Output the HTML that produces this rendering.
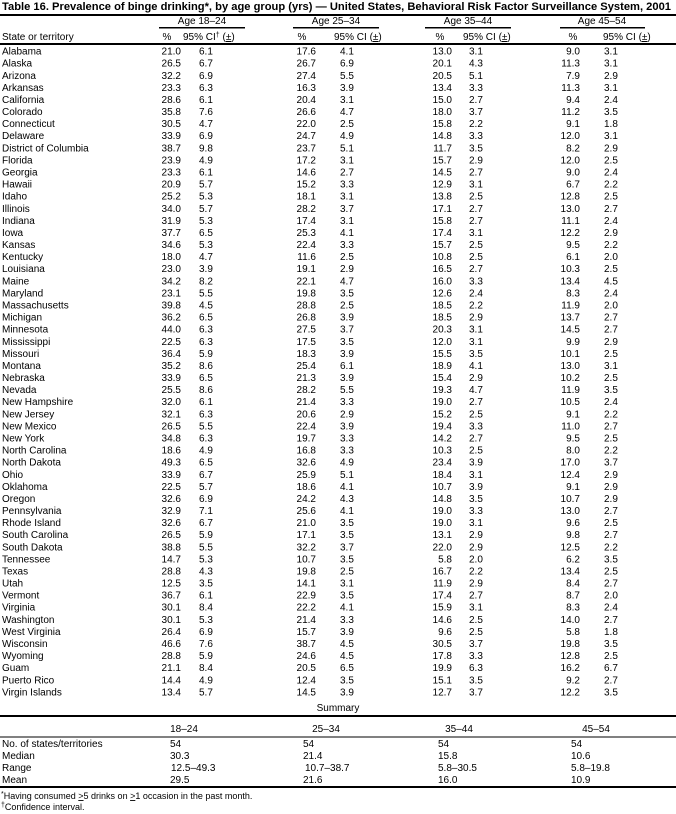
<!DOCTYPE html>
<html><head><meta charset="utf-8"><style>
html,body{margin:0;padding:0;background:#fff;}
svg{display:block;font-family:"Liberation Sans",Arial,sans-serif;}
text{font-size:10px;fill:#000;}
.r{text-anchor:end;}
.m{text-anchor:middle;}
.t{font-size:11px;font-weight:bold;}
.f{font-size:9px;}
</style></head><body>
<svg width="676" height="814" viewBox="0 0 676 814" xmlns="http://www.w3.org/2000/svg">
<text class="t" x="2" y="10" textLength="669" lengthAdjust="spacingAndGlyphs">Table 16. Prevalence of binge drinking*, by age group (yrs) — United States, Behavioral Risk Factor Surveillance System, 2001</text>
<rect x="0" y="14" width="676" height="2"/>
<text class="m" x="202" y="24">Age 18–24</text>
<text class="m" x="336" y="24">Age 25–34</text>
<text class="m" x="468" y="24">Age 35–44</text>
<text class="m" x="602" y="24">Age 45–54</text>
<rect x="159" y="27" width="86" height="1.5"/>
<rect x="293" y="27" width="86" height="1.5"/>
<rect x="425" y="27" width="86" height="1.5"/>
<rect x="560" y="27" width="85" height="1.5"/>
<text y="40"><tspan x="2">State or territory</tspan></text>
<text class="m" x="167" y="40">%</text><text x="183" y="40">95% CI<tspan font-size="7" dy="-3">†</tspan><tspan dy="3"> (</tspan><tspan text-decoration="underline">±</tspan>)</text>
<text class="m" x="302" y="40">%</text><text x="334" y="40">95% CI (<tspan text-decoration="underline">±</tspan>)</text>
<text class="m" x="440" y="40">%</text><text x="463" y="40">95% CI (<tspan text-decoration="underline">±</tspan>)</text>
<text class="m" x="573" y="40">%</text><text x="603" y="40">95% CI (<tspan text-decoration="underline">±</tspan>)</text>
<rect x="0" y="43" width="676" height="2"/>
<g>
<text y="54.6"><tspan x="2">Alabama</tspan><tspan class="r" x="181">21.0</tspan><tspan x="199">6.1</tspan><tspan class="r" x="316">17.6</tspan><tspan x="340">4.1</tspan><tspan class="r" x="452">13.0</tspan><tspan x="469">3.1</tspan><tspan class="r" x="580">9.0</tspan><tspan x="604">3.1</tspan></text>
<text y="66.7"><tspan x="2">Alaska</tspan><tspan class="r" x="181">26.5</tspan><tspan x="199">6.7</tspan><tspan class="r" x="316">26.7</tspan><tspan x="340">6.9</tspan><tspan class="r" x="452">20.1</tspan><tspan x="469">4.3</tspan><tspan class="r" x="580">11.3</tspan><tspan x="604">3.1</tspan></text>
<text y="78.8"><tspan x="2">Arizona</tspan><tspan class="r" x="181">32.2</tspan><tspan x="199">6.9</tspan><tspan class="r" x="316">27.4</tspan><tspan x="340">5.5</tspan><tspan class="r" x="452">20.5</tspan><tspan x="469">5.1</tspan><tspan class="r" x="580">7.9</tspan><tspan x="604">2.9</tspan></text>
<text y="90.9"><tspan x="2">Arkansas</tspan><tspan class="r" x="181">23.3</tspan><tspan x="199">6.3</tspan><tspan class="r" x="316">16.3</tspan><tspan x="340">3.9</tspan><tspan class="r" x="452">13.4</tspan><tspan x="469">3.3</tspan><tspan class="r" x="580">11.3</tspan><tspan x="604">3.1</tspan></text>
<text y="103.0"><tspan x="2">California</tspan><tspan class="r" x="181">28.6</tspan><tspan x="199">6.1</tspan><tspan class="r" x="316">20.4</tspan><tspan x="340">3.1</tspan><tspan class="r" x="452">15.0</tspan><tspan x="469">2.7</tspan><tspan class="r" x="580">9.4</tspan><tspan x="604">2.4</tspan></text>
<text y="115.1"><tspan x="2">Colorado</tspan><tspan class="r" x="181">35.8</tspan><tspan x="199">7.6</tspan><tspan class="r" x="316">26.6</tspan><tspan x="340">4.7</tspan><tspan class="r" x="452">18.0</tspan><tspan x="469">3.7</tspan><tspan class="r" x="580">11.2</tspan><tspan x="604">3.5</tspan></text>
<text y="127.1"><tspan x="2">Connecticut</tspan><tspan class="r" x="181">30.5</tspan><tspan x="199">4.7</tspan><tspan class="r" x="316">22.0</tspan><tspan x="340">2.5</tspan><tspan class="r" x="452">15.8</tspan><tspan x="469">2.2</tspan><tspan class="r" x="580">9.1</tspan><tspan x="604">1.8</tspan></text>
<text y="139.2"><tspan x="2">Delaware</tspan><tspan class="r" x="181">33.9</tspan><tspan x="199">6.9</tspan><tspan class="r" x="316">24.7</tspan><tspan x="340">4.9</tspan><tspan class="r" x="452">14.8</tspan><tspan x="469">3.3</tspan><tspan class="r" x="580">12.0</tspan><tspan x="604">3.1</tspan></text>
<text y="151.3"><tspan x="2">District of Columbia</tspan><tspan class="r" x="181">38.7</tspan><tspan x="199">9.8</tspan><tspan class="r" x="316">23.7</tspan><tspan x="340">5.1</tspan><tspan class="r" x="452">11.7</tspan><tspan x="469">3.5</tspan><tspan class="r" x="580">8.2</tspan><tspan x="604">2.9</tspan></text>
<text y="163.4"><tspan x="2">Florida</tspan><tspan class="r" x="181">23.9</tspan><tspan x="199">4.9</tspan><tspan class="r" x="316">17.2</tspan><tspan x="340">3.1</tspan><tspan class="r" x="452">15.7</tspan><tspan x="469">2.9</tspan><tspan class="r" x="580">12.0</tspan><tspan x="604">2.5</tspan></text>
<text y="175.5"><tspan x="2">Georgia</tspan><tspan class="r" x="181">23.3</tspan><tspan x="199">6.1</tspan><tspan class="r" x="316">14.6</tspan><tspan x="340">2.7</tspan><tspan class="r" x="452">14.5</tspan><tspan x="469">2.7</tspan><tspan class="r" x="580">9.0</tspan><tspan x="604">2.4</tspan></text>
<text y="187.6"><tspan x="2">Hawaii</tspan><tspan class="r" x="181">20.9</tspan><tspan x="199">5.7</tspan><tspan class="r" x="316">15.2</tspan><tspan x="340">3.3</tspan><tspan class="r" x="452">12.9</tspan><tspan x="469">3.1</tspan><tspan class="r" x="580">6.7</tspan><tspan x="604">2.2</tspan></text>
<text y="199.7"><tspan x="2">Idaho</tspan><tspan class="r" x="181">25.2</tspan><tspan x="199">5.3</tspan><tspan class="r" x="316">18.1</tspan><tspan x="340">3.1</tspan><tspan class="r" x="452">13.8</tspan><tspan x="469">2.5</tspan><tspan class="r" x="580">12.8</tspan><tspan x="604">2.5</tspan></text>
<text y="211.8"><tspan x="2">Illinois</tspan><tspan class="r" x="181">34.0</tspan><tspan x="199">5.7</tspan><tspan class="r" x="316">28.2</tspan><tspan x="340">3.7</tspan><tspan class="r" x="452">17.1</tspan><tspan x="469">2.7</tspan><tspan class="r" x="580">13.0</tspan><tspan x="604">2.7</tspan></text>
<text y="223.9"><tspan x="2">Indiana</tspan><tspan class="r" x="181">31.9</tspan><tspan x="199">5.3</tspan><tspan class="r" x="316">17.4</tspan><tspan x="340">3.1</tspan><tspan class="r" x="452">15.8</tspan><tspan x="469">2.7</tspan><tspan class="r" x="580">11.1</tspan><tspan x="604">2.4</tspan></text>
<text y="236.0"><tspan x="2">Iowa</tspan><tspan class="r" x="181">37.7</tspan><tspan x="199">6.5</tspan><tspan class="r" x="316">25.3</tspan><tspan x="340">4.1</tspan><tspan class="r" x="452">17.4</tspan><tspan x="469">3.1</tspan><tspan class="r" x="580">12.2</tspan><tspan x="604">2.9</tspan></text>
<text y="248.0"><tspan x="2">Kansas</tspan><tspan class="r" x="181">34.6</tspan><tspan x="199">5.3</tspan><tspan class="r" x="316">22.4</tspan><tspan x="340">3.3</tspan><tspan class="r" x="452">15.7</tspan><tspan x="469">2.5</tspan><tspan class="r" x="580">9.5</tspan><tspan x="604">2.2</tspan></text>
<text y="260.1"><tspan x="2">Kentucky</tspan><tspan class="r" x="181">18.0</tspan><tspan x="199">4.7</tspan><tspan class="r" x="316">11.6</tspan><tspan x="340">2.5</tspan><tspan class="r" x="452">10.8</tspan><tspan x="469">2.5</tspan><tspan class="r" x="580">6.1</tspan><tspan x="604">2.0</tspan></text>
<text y="272.2"><tspan x="2">Louisiana</tspan><tspan class="r" x="181">23.0</tspan><tspan x="199">3.9</tspan><tspan class="r" x="316">19.1</tspan><tspan x="340">2.9</tspan><tspan class="r" x="452">16.5</tspan><tspan x="469">2.7</tspan><tspan class="r" x="580">10.3</tspan><tspan x="604">2.5</tspan></text>
<text y="284.3"><tspan x="2">Maine</tspan><tspan class="r" x="181">34.2</tspan><tspan x="199">8.2</tspan><tspan class="r" x="316">22.1</tspan><tspan x="340">4.7</tspan><tspan class="r" x="452">16.0</tspan><tspan x="469">3.3</tspan><tspan class="r" x="580">13.4</tspan><tspan x="604">4.5</tspan></text>
<text y="296.4"><tspan x="2">Maryland</tspan><tspan class="r" x="181">23.1</tspan><tspan x="199">5.5</tspan><tspan class="r" x="316">19.8</tspan><tspan x="340">3.5</tspan><tspan class="r" x="452">12.6</tspan><tspan x="469">2.4</tspan><tspan class="r" x="580">8.3</tspan><tspan x="604">2.4</tspan></text>
<text y="308.5"><tspan x="2">Massachusetts</tspan><tspan class="r" x="181">39.8</tspan><tspan x="199">4.5</tspan><tspan class="r" x="316">28.8</tspan><tspan x="340">2.5</tspan><tspan class="r" x="452">18.5</tspan><tspan x="469">2.2</tspan><tspan class="r" x="580">11.9</tspan><tspan x="604">2.0</tspan></text>
<text y="320.6"><tspan x="2">Michigan</tspan><tspan class="r" x="181">36.2</tspan><tspan x="199">6.5</tspan><tspan class="r" x="316">26.8</tspan><tspan x="340">3.9</tspan><tspan class="r" x="452">18.5</tspan><tspan x="469">2.9</tspan><tspan class="r" x="580">13.7</tspan><tspan x="604">2.7</tspan></text>
<text y="332.7"><tspan x="2">Minnesota</tspan><tspan class="r" x="181">44.0</tspan><tspan x="199">6.3</tspan><tspan class="r" x="316">27.5</tspan><tspan x="340">3.7</tspan><tspan class="r" x="452">20.3</tspan><tspan x="469">3.1</tspan><tspan class="r" x="580">14.5</tspan><tspan x="604">2.7</tspan></text>
<text y="344.8"><tspan x="2">Mississippi</tspan><tspan class="r" x="181">22.5</tspan><tspan x="199">6.3</tspan><tspan class="r" x="316">17.5</tspan><tspan x="340">3.5</tspan><tspan class="r" x="452">12.0</tspan><tspan x="469">3.1</tspan><tspan class="r" x="580">9.9</tspan><tspan x="604">2.9</tspan></text>
<text y="356.9"><tspan x="2">Missouri</tspan><tspan class="r" x="181">36.4</tspan><tspan x="199">5.9</tspan><tspan class="r" x="316">18.3</tspan><tspan x="340">3.9</tspan><tspan class="r" x="452">15.5</tspan><tspan x="469">3.5</tspan><tspan class="r" x="580">10.1</tspan><tspan x="604">2.5</tspan></text>
<text y="368.9"><tspan x="2">Montana</tspan><tspan class="r" x="181">35.2</tspan><tspan x="199">8.6</tspan><tspan class="r" x="316">25.4</tspan><tspan x="340">6.1</tspan><tspan class="r" x="452">18.9</tspan><tspan x="469">4.1</tspan><tspan class="r" x="580">13.0</tspan><tspan x="604">3.1</tspan></text>
<text y="381.0"><tspan x="2">Nebraska</tspan><tspan class="r" x="181">33.9</tspan><tspan x="199">6.5</tspan><tspan class="r" x="316">21.3</tspan><tspan x="340">3.9</tspan><tspan class="r" x="452">15.4</tspan><tspan x="469">2.9</tspan><tspan class="r" x="580">10.2</tspan><tspan x="604">2.5</tspan></text>
<text y="393.1"><tspan x="2">Nevada</tspan><tspan class="r" x="181">25.5</tspan><tspan x="199">8.6</tspan><tspan class="r" x="316">28.2</tspan><tspan x="340">5.5</tspan><tspan class="r" x="452">19.3</tspan><tspan x="469">4.7</tspan><tspan class="r" x="580">11.9</tspan><tspan x="604">3.5</tspan></text>
<text y="405.2"><tspan x="2">New Hampshire</tspan><tspan class="r" x="181">32.0</tspan><tspan x="199">6.1</tspan><tspan class="r" x="316">21.4</tspan><tspan x="340">3.3</tspan><tspan class="r" x="452">19.0</tspan><tspan x="469">2.7</tspan><tspan class="r" x="580">10.5</tspan><tspan x="604">2.4</tspan></text>
<text y="417.3"><tspan x="2">New Jersey</tspan><tspan class="r" x="181">32.1</tspan><tspan x="199">6.3</tspan><tspan class="r" x="316">20.6</tspan><tspan x="340">2.9</tspan><tspan class="r" x="452">15.2</tspan><tspan x="469">2.5</tspan><tspan class="r" x="580">9.1</tspan><tspan x="604">2.2</tspan></text>
<text y="429.4"><tspan x="2">New Mexico</tspan><tspan class="r" x="181">26.5</tspan><tspan x="199">5.5</tspan><tspan class="r" x="316">22.4</tspan><tspan x="340">3.9</tspan><tspan class="r" x="452">19.4</tspan><tspan x="469">3.3</tspan><tspan class="r" x="580">11.0</tspan><tspan x="604">2.7</tspan></text>
<text y="441.5"><tspan x="2">New York</tspan><tspan class="r" x="181">34.8</tspan><tspan x="199">6.3</tspan><tspan class="r" x="316">19.7</tspan><tspan x="340">3.3</tspan><tspan class="r" x="452">14.2</tspan><tspan x="469">2.7</tspan><tspan class="r" x="580">9.5</tspan><tspan x="604">2.5</tspan></text>
<text y="453.6"><tspan x="2">North Carolina</tspan><tspan class="r" x="181">18.6</tspan><tspan x="199">4.9</tspan><tspan class="r" x="316">16.8</tspan><tspan x="340">3.3</tspan><tspan class="r" x="452">10.3</tspan><tspan x="469">2.5</tspan><tspan class="r" x="580">8.0</tspan><tspan x="604">2.2</tspan></text>
<text y="465.7"><tspan x="2">North Dakota</tspan><tspan class="r" x="181">49.3</tspan><tspan x="199">6.5</tspan><tspan class="r" x="316">32.6</tspan><tspan x="340">4.9</tspan><tspan class="r" x="452">23.4</tspan><tspan x="469">3.9</tspan><tspan class="r" x="580">17.0</tspan><tspan x="604">3.7</tspan></text>
<text y="477.8"><tspan x="2">Ohio</tspan><tspan class="r" x="181">33.9</tspan><tspan x="199">6.7</tspan><tspan class="r" x="316">25.9</tspan><tspan x="340">5.1</tspan><tspan class="r" x="452">18.4</tspan><tspan x="469">3.1</tspan><tspan class="r" x="580">12.4</tspan><tspan x="604">2.9</tspan></text>
<text y="489.8"><tspan x="2">Oklahoma</tspan><tspan class="r" x="181">22.5</tspan><tspan x="199">5.7</tspan><tspan class="r" x="316">18.6</tspan><tspan x="340">4.1</tspan><tspan class="r" x="452">10.7</tspan><tspan x="469">3.9</tspan><tspan class="r" x="580">9.1</tspan><tspan x="604">2.9</tspan></text>
<text y="501.9"><tspan x="2">Oregon</tspan><tspan class="r" x="181">32.6</tspan><tspan x="199">6.9</tspan><tspan class="r" x="316">24.2</tspan><tspan x="340">4.3</tspan><tspan class="r" x="452">14.8</tspan><tspan x="469">3.5</tspan><tspan class="r" x="580">10.7</tspan><tspan x="604">2.9</tspan></text>
<text y="514.0"><tspan x="2">Pennsylvania</tspan><tspan class="r" x="181">32.9</tspan><tspan x="199">7.1</tspan><tspan class="r" x="316">25.6</tspan><tspan x="340">4.1</tspan><tspan class="r" x="452">19.0</tspan><tspan x="469">3.3</tspan><tspan class="r" x="580">13.0</tspan><tspan x="604">2.7</tspan></text>
<text y="526.1"><tspan x="2">Rhode Island</tspan><tspan class="r" x="181">32.6</tspan><tspan x="199">6.7</tspan><tspan class="r" x="316">21.0</tspan><tspan x="340">3.5</tspan><tspan class="r" x="452">19.0</tspan><tspan x="469">3.1</tspan><tspan class="r" x="580">9.6</tspan><tspan x="604">2.5</tspan></text>
<text y="538.2"><tspan x="2">South Carolina</tspan><tspan class="r" x="181">26.5</tspan><tspan x="199">5.9</tspan><tspan class="r" x="316">17.1</tspan><tspan x="340">3.5</tspan><tspan class="r" x="452">13.1</tspan><tspan x="469">2.9</tspan><tspan class="r" x="580">9.8</tspan><tspan x="604">2.7</tspan></text>
<text y="550.3"><tspan x="2">South Dakota</tspan><tspan class="r" x="181">38.8</tspan><tspan x="199">5.5</tspan><tspan class="r" x="316">32.2</tspan><tspan x="340">3.7</tspan><tspan class="r" x="452">22.0</tspan><tspan x="469">2.9</tspan><tspan class="r" x="580">12.5</tspan><tspan x="604">2.2</tspan></text>
<text y="562.4"><tspan x="2">Tennessee</tspan><tspan class="r" x="181">14.7</tspan><tspan x="199">5.3</tspan><tspan class="r" x="316">10.7</tspan><tspan x="340">3.5</tspan><tspan class="r" x="452">5.8</tspan><tspan x="469">2.0</tspan><tspan class="r" x="580">6.2</tspan><tspan x="604">3.5</tspan></text>
<text y="574.5"><tspan x="2">Texas</tspan><tspan class="r" x="181">28.8</tspan><tspan x="199">4.3</tspan><tspan class="r" x="316">19.8</tspan><tspan x="340">2.5</tspan><tspan class="r" x="452">16.7</tspan><tspan x="469">2.2</tspan><tspan class="r" x="580">13.4</tspan><tspan x="604">2.5</tspan></text>
<text y="586.6"><tspan x="2">Utah</tspan><tspan class="r" x="181">12.5</tspan><tspan x="199">3.5</tspan><tspan class="r" x="316">14.1</tspan><tspan x="340">3.1</tspan><tspan class="r" x="452">11.9</tspan><tspan x="469">2.9</tspan><tspan class="r" x="580">8.4</tspan><tspan x="604">2.7</tspan></text>
<text y="598.7"><tspan x="2">Vermont</tspan><tspan class="r" x="181">36.7</tspan><tspan x="199">6.1</tspan><tspan class="r" x="316">22.9</tspan><tspan x="340">3.5</tspan><tspan class="r" x="452">17.4</tspan><tspan x="469">2.7</tspan><tspan class="r" x="580">8.7</tspan><tspan x="604">2.0</tspan></text>
<text y="610.7"><tspan x="2">Virginia</tspan><tspan class="r" x="181">30.1</tspan><tspan x="199">8.4</tspan><tspan class="r" x="316">22.2</tspan><tspan x="340">4.1</tspan><tspan class="r" x="452">15.9</tspan><tspan x="469">3.1</tspan><tspan class="r" x="580">8.3</tspan><tspan x="604">2.4</tspan></text>
<text y="622.8"><tspan x="2">Washington</tspan><tspan class="r" x="181">30.1</tspan><tspan x="199">5.3</tspan><tspan class="r" x="316">21.4</tspan><tspan x="340">3.3</tspan><tspan class="r" x="452">14.6</tspan><tspan x="469">2.5</tspan><tspan class="r" x="580">14.0</tspan><tspan x="604">2.7</tspan></text>
<text y="634.9"><tspan x="2">West Virginia</tspan><tspan class="r" x="181">26.4</tspan><tspan x="199">6.9</tspan><tspan class="r" x="316">15.7</tspan><tspan x="340">3.9</tspan><tspan class="r" x="452">9.6</tspan><tspan x="469">2.5</tspan><tspan class="r" x="580">5.8</tspan><tspan x="604">1.8</tspan></text>
<text y="647.0"><tspan x="2">Wisconsin</tspan><tspan class="r" x="181">46.6</tspan><tspan x="199">7.6</tspan><tspan class="r" x="316">38.7</tspan><tspan x="340">4.5</tspan><tspan class="r" x="452">30.5</tspan><tspan x="469">3.7</tspan><tspan class="r" x="580">19.8</tspan><tspan x="604">3.5</tspan></text>
<text y="659.1"><tspan x="2">Wyoming</tspan><tspan class="r" x="181">28.8</tspan><tspan x="199">5.9</tspan><tspan class="r" x="316">24.6</tspan><tspan x="340">4.5</tspan><tspan class="r" x="452">17.8</tspan><tspan x="469">3.3</tspan><tspan class="r" x="580">12.8</tspan><tspan x="604">2.5</tspan></text>
<text y="671.2"><tspan x="2">Guam</tspan><tspan class="r" x="181">21.1</tspan><tspan x="199">8.4</tspan><tspan class="r" x="316">20.5</tspan><tspan x="340">6.5</tspan><tspan class="r" x="452">19.9</tspan><tspan x="469">6.3</tspan><tspan class="r" x="580">16.2</tspan><tspan x="604">6.7</tspan></text>
<text y="683.3"><tspan x="2">Puerto Rico</tspan><tspan class="r" x="181">14.4</tspan><tspan x="199">4.9</tspan><tspan class="r" x="316">12.4</tspan><tspan x="340">3.5</tspan><tspan class="r" x="452">15.1</tspan><tspan x="469">3.5</tspan><tspan class="r" x="580">9.2</tspan><tspan x="604">2.7</tspan></text>
<text y="695.4"><tspan x="2">Virgin Islands</tspan><tspan class="r" x="181">13.4</tspan><tspan x="199">5.7</tspan><tspan class="r" x="316">14.5</tspan><tspan x="340">3.9</tspan><tspan class="r" x="452">12.7</tspan><tspan x="469">3.7</tspan><tspan class="r" x="580">12.2</tspan><tspan x="604">3.5</tspan></text>
</g>
<text class="m" x="338" y="711">Summary</text>
<rect x="0" y="715" width="676" height="2"/>
<text class="m" x="184" y="732">18–24</text>
<text class="m" x="326" y="732">25–34</text>
<text class="m" x="459" y="732">35–44</text>
<text class="m" x="596" y="732">45–54</text>
<rect x="0" y="736.5" width="676" height="1"/>
<text y="747"><tspan x="2">No. of states/territories</tspan><tspan x="170">54</tspan><tspan x="303">54</tspan><tspan x="438">54</tspan><tspan x="571">54</tspan></text>
<text y="759"><tspan x="2">Median</tspan><tspan x="170">30.3</tspan><tspan x="303">21.4</tspan><tspan x="438">15.8</tspan><tspan x="571">10.6</tspan></text>
<text y="771"><tspan x="2">Range</tspan><tspan x="171">12.5–49.3</tspan><tspan x="305">10.7–38.7</tspan><tspan x="438">5.8–30.5</tspan><tspan x="571">5.8–19.8</tspan></text>
<text y="783"><tspan x="2">Mean</tspan><tspan x="170">29.5</tspan><tspan x="303">21.6</tspan><tspan x="438">16.0</tspan><tspan x="571">10.9</tspan></text>
<rect x="0" y="786" width="676" height="2"/>
<text class="f" x="1" y="799"><tspan font-size="7" dy="-3">*</tspan><tspan dy="3">Having consumed </tspan><tspan text-decoration="underline">&gt;</tspan>5 drinks on <tspan text-decoration="underline">&gt;</tspan>1 occasion in the past month.</text>
<text class="f" x="1" y="810"><tspan font-size="7" dy="-3">†</tspan><tspan dy="3">Confidence interval.</tspan></text>
</svg>
</body></html>
